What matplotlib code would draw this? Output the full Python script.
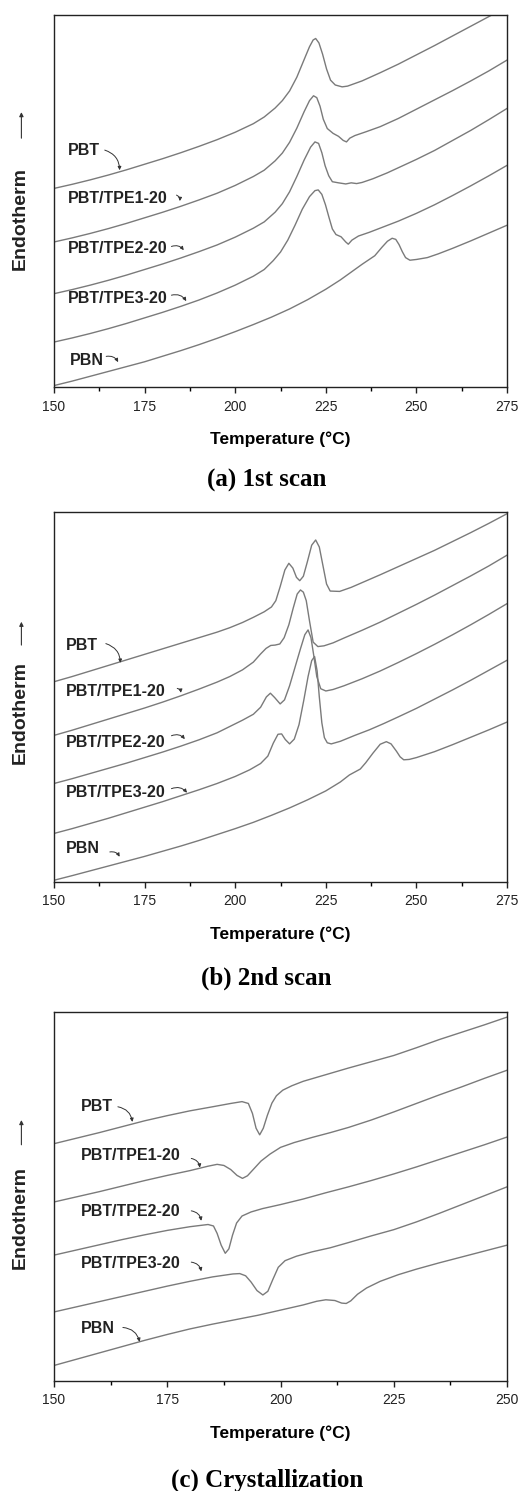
import matplotlib
matplotlib.use("Agg")
import matplotlib.pyplot as plt
from matplotlib.ticker import MultipleLocator

plt.rcParams['font.family'] = ['Liberation Sans', 'DejaVu Sans']

names = ['PBT', 'PBT/TPE1-20', 'PBT/TPE2-20', 'PBT/TPE3-20', 'PBN']

# ---- (a) 1st scan : temperature (C) / heat flow (arb. units, offset) ----
a_pbt_t = [150, 155, 160, 165, 170, 175, 180, 185, 190, 195, 200, 205, 208, 211, 213, 215, 217, 219, 220.5, 221.5,
           222.2, 223.1, 224.1, 225.2, 226.3, 227.6, 229.5, 231, 235, 240, 245, 250, 255, 260, 265, 270, 275]
a_pbt_y = [53.4, 54.5, 55.7, 57.0, 58.4, 59.9, 61.4, 63.0, 64.7, 66.5, 68.5, 70.8, 72.6, 75.0, 77.0, 79.6, 83.3, 88.0, 91.5, 93.3,
           93.7, 92.5, 89.5, 85.5, 82.5, 81.2, 80.7, 80.9, 82.3, 84.5, 86.8, 89.3, 91.8, 94.4, 97.0, 99.6, 102.2]

a_tpe1_t = [150, 155, 160, 165, 170, 175, 180, 185, 190, 195, 200, 205, 208, 211, 213, 215, 217, 219, 220.5, 221.6,
            222.5, 223.4, 224.3, 225.4, 227, 228.5, 229.8, 230.7, 231.6, 233, 236, 240, 245, 250, 255, 260, 265, 270, 275]
a_tpe1_y = [39.0, 40.1, 41.3, 42.6, 44.0, 45.5, 47.0, 48.6, 50.3, 52.1, 54.2, 56.6, 58.3, 60.8, 62.9, 65.8, 69.6, 74.0, 77.0, 78.3,
            77.8, 75.5, 72.0, 69.5, 68.2, 67.4, 66.3, 65.9, 66.9, 67.6, 68.6, 70.0, 72.2, 74.7, 77.2, 79.7, 82.3, 85.0, 87.9]

a_tpe2_t = [150, 155, 160, 165, 170, 175, 180, 185, 190, 195, 200, 205, 208, 211, 213, 215, 217, 219, 220.8, 222,
            223, 223.9, 224.8, 225.8, 226.8, 228.5, 230.5, 232, 233.5, 235, 238, 242, 246, 250, 255, 260, 265, 270, 275]
a_tpe2_y = [25.1, 26.2, 27.4, 28.7, 30.1, 31.6, 33.1, 34.7, 36.4, 38.2, 40.3, 42.7, 44.4, 47.0, 49.3, 52.5, 56.6, 61.0, 64.5, 65.9,
            65.5, 63.0, 59.5, 56.8, 55.2, 54.9, 54.6, 54.9, 54.7, 55.0, 56.0, 57.6, 59.4, 61.2, 63.6, 66.3, 69.0, 71.9, 74.9]

a_tpe3_t = [150, 155, 160, 165, 170, 175, 180, 185, 190, 195, 200, 205, 208, 210.5, 212.5, 214.5, 216.5, 218.5, 220.5, 222,
            222.9, 223.9, 224.9, 225.9, 226.8, 227.8, 229.2, 230.5, 231.2, 232.2, 234, 237, 241, 245, 250, 255, 260, 265, 270, 275]
a_tpe3_y = [12.1, 13.2, 14.4, 15.7, 17.1, 18.6, 20.1, 21.7, 23.4, 25.3, 27.4, 29.8, 31.6, 34.0, 36.3, 39.5, 43.5, 47.8, 51.2, 52.8,
            53.0, 51.8, 49.0, 45.5, 42.5, 41.0, 40.4, 39.0, 38.4, 39.5, 40.6, 41.6, 43.1, 44.6, 46.7, 49.0, 51.5, 54.1, 56.8, 59.6]

a_pbn_t = [150, 155, 160, 165, 170, 175, 180, 185, 190, 195, 200, 205, 210, 215, 220, 225, 229, 232, 235, 238.5,
           240.5, 242, 243.3, 244.3, 245.2, 246.1, 247, 248.2, 250, 253, 256, 260, 265, 270, 275]
a_pbn_y = [0.4, 1.6, 2.9, 4.2, 5.5, 6.8, 8.3, 9.8, 11.4, 13.1, 14.9, 16.8, 18.8, 21.0, 23.5, 26.3, 28.8, 30.9, 33.0, 35.3,
           37.6, 39.2, 40.0, 39.7, 38.3, 36.4, 34.8, 34.1, 34.3, 34.8, 35.8, 37.3, 39.3, 41.4, 43.5]

# ---- (b) 2nd scan ----
b_pbt_t = [150, 155, 160, 165, 170, 175, 180, 185, 190, 195, 198.5, 202, 205, 208, 210, 211.2, 212.4, 213.7, 214.8, 215.9,
           216.9, 217.8, 218.8, 219.9, 221.1, 222.2, 223.2, 224.2, 225.2, 226.2, 228.8, 232, 236, 240, 245, 250, 255, 260, 265, 270, 275]
b_pbt_y = [54.1, 55.5, 57.0, 58.5, 60.0, 61.5, 63.0, 64.5, 66.0, 67.5, 68.7, 70.1, 71.5, 73.0, 74.3, 76.0, 79.8, 84.3, 86.1, 84.8,
           82.3, 81.4, 82.6, 86.5, 91.0, 92.4, 90.5, 85.5, 80.5, 78.6, 78.5, 79.6, 81.3, 83.0, 85.2, 87.4, 89.6, 92.0, 94.4, 96.9, 99.5]

b_tpe1_t = [150, 155, 160, 165, 170, 175, 180, 185, 190, 195, 198.5, 202, 205, 207, 208.5, 209.8, 211, 212.3, 213.5, 214.8,
            216, 217.1, 218, 218.8, 219.6, 220.5, 221.5, 222.8, 224.5, 227, 230, 235, 240, 245, 250, 255, 260, 265, 270, 275]
b_tpe1_y = [39.6, 41.0, 42.5, 44.0, 45.5, 47.0, 48.6, 50.3, 52.1, 54.0, 55.5, 57.3, 59.4, 61.6, 63.1, 63.9, 64.0, 64.3, 66.0, 69.5,
            74.0, 77.8, 78.9, 78.3, 76.0, 70.5, 64.8, 63.6, 63.8, 64.6, 65.9, 68.0, 70.2, 72.6, 75.0, 77.5, 80.1, 82.7, 85.4, 88.3]

b_tpe2_t = [150, 155, 160, 165, 170, 175, 180, 185, 190, 195, 198.5, 202, 205, 207, 208.6, 209.7, 210.9, 212.4, 213.6, 215,
            216.5, 218, 219.2, 220.1, 220.9, 221.7, 222.5, 223.6, 225, 227, 230, 235, 240, 245, 250, 255, 260, 265, 270, 275]
b_tpe2_y = [26.6, 27.9, 29.3, 30.7, 32.1, 33.6, 35.1, 36.7, 38.4, 40.3, 42.0, 43.7, 45.3, 47.2, 50.0, 51.0, 49.8, 48.1, 49.2, 53.0,
            58.0, 63.0, 66.8, 68.1, 66.0, 61.0, 55.5, 52.2, 51.6, 52.0, 53.0, 54.9, 57.0, 59.3, 61.7, 64.2, 66.8, 69.5, 72.3, 75.2]

b_tpe3_t = [150, 155, 160, 165, 170, 175, 180, 185, 190, 195, 200, 204, 207, 209, 210.5, 211.8, 212.8, 213.8, 215, 216.3,
            217.6, 218.9, 220.1, 221.1, 221.9, 222.6, 223.2, 223.9, 224.6, 225.4, 226.5, 229, 233, 237, 241, 245, 250, 255, 260, 265, 270, 275]
b_tpe3_y = [13.1, 14.4, 15.8, 17.2, 18.7, 20.2, 21.7, 23.3, 24.9, 26.6, 28.5, 30.3, 32.0, 34.0, 37.5, 39.9, 40.0, 38.5, 37.3, 38.6,
            42.5, 49.0, 55.5, 59.8, 60.9, 57.0, 50.0, 43.0, 39.0, 37.6, 37.3, 38.0, 39.6, 41.1, 42.8, 44.6, 46.9, 49.4, 51.9, 54.5, 57.2, 59.9]

b_pbn_t = [150, 155, 160, 165, 170, 175, 180, 185, 190, 195, 200, 205, 210, 215, 220, 225, 229, 231.5, 233, 234.5,
           236, 238, 240, 241.7, 243, 244.5, 245.5, 246.5, 248, 250, 255, 260, 265, 270, 275]
b_pbn_y = [0.45, 1.7, 3.0, 4.3, 5.6, 6.9, 8.3, 9.7, 11.2, 12.8, 14.4, 16.1, 18.0, 20.0, 22.2, 24.6, 27.0, 28.9, 29.7, 30.5,
           32.2, 34.8, 37.2, 37.9, 37.3, 35.3, 33.8, 33.0, 33.1, 33.6, 35.2, 37.1, 39.1, 41.1, 43.2]

# ---- (c) Crystallization ----
c_pbt_t = [150, 155, 160, 165, 170, 175, 180, 185, 189, 191.5, 192.9, 193.8, 194.6, 195.4, 196.2, 197.1, 198.1, 199.1, 200.5, 202.5,
           205, 210, 215, 220, 225, 230, 235, 240, 245, 250]
c_pbt_y = [64.3, 65.8, 67.3, 68.9, 70.5, 71.9, 73.2, 74.3, 75.2, 75.7, 75.2, 72.5, 68.5, 66.7, 68.5, 72.0, 75.3, 77.3, 78.8, 80.0,
           81.2, 83.0, 84.8, 86.5, 88.2, 90.3, 92.5, 94.5, 96.5, 98.6]

c_tpe1_t = [150, 155, 160, 165, 170, 175, 180, 184, 186, 187.5, 189, 190.4, 191.6, 192.7, 194.2, 195.7, 197.7, 200, 203, 207,
            211, 215, 220, 225, 230, 235, 240, 245, 250]
c_tpe1_y = [48.5, 49.9, 51.3, 52.8, 54.3, 55.7, 57.0, 58.2, 58.7, 58.4, 57.3, 55.7, 54.9, 55.6, 57.6, 59.6, 61.5, 63.3, 64.6, 66.0,
            67.3, 68.7, 70.7, 72.9, 75.2, 77.5, 79.7, 82.0, 84.2]

c_tpe2_t = [150, 155, 160, 165, 170, 175, 180, 184, 185.2, 186, 186.9, 187.8, 188.6, 189.4, 190.3, 191.5, 193.5, 196, 200, 205,
            210, 215, 220, 225, 230, 235, 240, 245, 250]
c_tpe2_y = [34.1, 35.5, 36.9, 38.3, 39.6, 40.8, 41.8, 42.4, 42.0, 40.0, 36.8, 34.6, 35.8, 39.5, 42.8, 44.7, 45.8, 46.7, 47.8, 49.3,
            51.0, 52.6, 54.3, 56.1, 58.0, 60.0, 62.0, 64.0, 66.1]

c_tpe3_t = [150, 155, 160, 165, 170, 175, 180, 185, 189.5, 191, 192.3, 193.5, 194.8, 196.1, 197.2, 198.3, 199.5, 201, 203.5, 207,
            211, 215, 220, 225, 230, 235, 240, 245, 250]
c_tpe3_y = [18.7, 20.1, 21.5, 22.9, 24.3, 25.7, 27.0, 28.2, 29.0, 29.1, 28.5, 26.8, 24.5, 23.3, 24.3, 27.5, 30.8, 32.6, 33.8, 35.0,
            36.1, 37.5, 39.3, 41.0, 43.1, 45.4, 47.8, 50.2, 52.6]

c_pbn_t = [150, 155, 160, 165, 170, 175, 180, 185, 190, 195, 200, 205, 208, 210, 212, 213.5, 214.5, 215.5, 217, 219,
           222, 226, 230, 235, 240, 245, 250]
c_pbn_y = [4.2, 5.9, 7.6, 9.3, 11.0, 12.6, 14.1, 15.4, 16.6, 17.8, 19.2, 20.6, 21.6, 22.0, 21.8, 21.1, 21.0, 21.7, 23.5, 25.2,
           27.0, 28.8, 30.3, 32.0, 33.6, 35.2, 36.8]

panels = [
    dict(curves=[(a_pbt_t, a_pbt_y), (a_tpe1_t, a_tpe1_y), (a_tpe2_t, a_tpe2_y), (a_tpe3_t, a_tpe3_y), (a_pbn_t, a_pbn_y)],
         xmax=275, title='(a) 1st scan'),
    dict(curves=[(b_pbt_t, b_pbt_y), (b_tpe1_t, b_tpe1_y), (b_tpe2_t, b_tpe2_y), (b_tpe3_t, b_tpe3_y), (b_pbn_t, b_pbn_y)],
         xmax=275, title='(b) 2nd scan'),
    dict(curves=[(c_pbt_t, c_pbt_y), (c_tpe1_t, c_tpe1_y), (c_tpe2_t, c_tpe2_y), (c_tpe3_t, c_tpe3_y), (c_pbn_t, c_pbn_y)],
         xmax=250, title='(c) Crystallization'),
]

# layout: axes boxes, label spots (text pos, arrow tail, arrow head), title baseline, ylabel/arrow spots
axes_boxes = [[0.1023, 0.7404, 0.858, 0.2495], [0.1023, 0.4085, 0.858, 0.2482], [0.1023, 0.0738, 0.858, 0.2475]]
title_y = [0.6734, 0.3394, 0.0030]
ylab_y = [0.452, 0.459, 0.444]
yarrow = [(0.669, 0.739), (0.640, 0.703), (0.640, 0.707)]
label_spots = [
    [((153.9, 63.7), (164.0, 63.7), (168.1, 58.3)),
     ((153.9, 50.7), (183.8, 51.6), (184.7, 50.0)),
     ((153.9, 37.2), (182.4, 37.8), (185.8, 36.8)),
     ((153.9, 23.8), (182.4, 24.7), (186.5, 23.1)),
     ((154.3, 7.2), (164.4, 8.25), (167.7, 6.7))],
    [((153.4, 64.0), (164.3, 64.4), (168.3, 59.2)),
     ((153.4, 51.4), (184.0, 52.3), (185.0, 51.1)),
     ((153.4, 37.8), (182.4, 39.5), (186.1, 38.6)),
     ((153.4, 24.3), (182.4, 25.2), (186.7, 24.1)),
     ((153.4, 9.0), (165.4, 8.1), (168.1, 6.8))],
    [((156.0, 74.3), (164.1, 74.3), (167.3, 70.2)),
     ((156.0, 61.2), (180.3, 60.3), (182.2, 57.8)),
     ((156.0, 45.8), (180.3, 46.1), (182.5, 43.4)),
     ((156.0, 31.8), (180.3, 32.2), (182.5, 29.7)),
     ((156.0, 14.2), (165.2, 14.5), (168.9, 10.6))],
]

fig = plt.figure(figsize=(5.28, 14.91), dpi=100)

for i, p in enumerate(panels):
    ax = fig.add_axes(axes_boxes[i])
    for t, y in p['curves']:
        ax.plot(t, y, color='#7a7a7a', lw=1.0)
    ax.set_xlim(150, p['xmax'])
    ax.set_ylim(0, 100)
    ax.xaxis.set_major_locator(MultipleLocator(25))
    ax.xaxis.set_minor_locator(MultipleLocator(12.5))
    ax.set_yticks([])
    ax.tick_params(axis='x', which='major', direction='out', length=4, width=1, labelsize=10, pad=5, colors='#222222')
    ax.tick_params(axis='x', which='minor', direction='out', length=3, width=1)
    for s in ax.spines.values():
        s.set_linewidth(1.0)
        s.set_color('#222222')
    ax.set_xlabel('Temperature (°C)', fontsize=12.5, fontweight='bold', labelpad=13)

    for name, (txt, tail, head) in zip(names, label_spots[i]):
        ax.text(txt[0], txt[1], name, fontsize=11.5, fontweight='bold', va='center', ha='left', color='#222222')
        ax.annotate('', xy=head, xytext=tail,
                    arrowprops=dict(arrowstyle='-|>', color='#333333', lw=0.7, mutation_scale=5,
                                    connectionstyle='arc3,rad=-0.35', shrinkA=0, shrinkB=0))

    ax.text(-0.075, ylab_y[i], 'Endotherm', transform=ax.transAxes, rotation=90, fontsize=14,
            fontweight='bold', ha='center', va='center', color='#222222')
    ax.annotate('', xy=(-0.072, yarrow[i][1]), xytext=(-0.072, yarrow[i][0]),
                xycoords='axes fraction', textcoords='axes fraction',
                arrowprops=dict(arrowstyle='-|>', color='#333333', lw=0.8, mutation_scale=6, shrinkA=0, shrinkB=0))

    fig.text(0.505, title_y[i], p['title'], family='Liberation Serif', fontsize=18, fontweight='bold',
             ha='center', va='baseline')

fig.savefig('out.png', dpi=100)
